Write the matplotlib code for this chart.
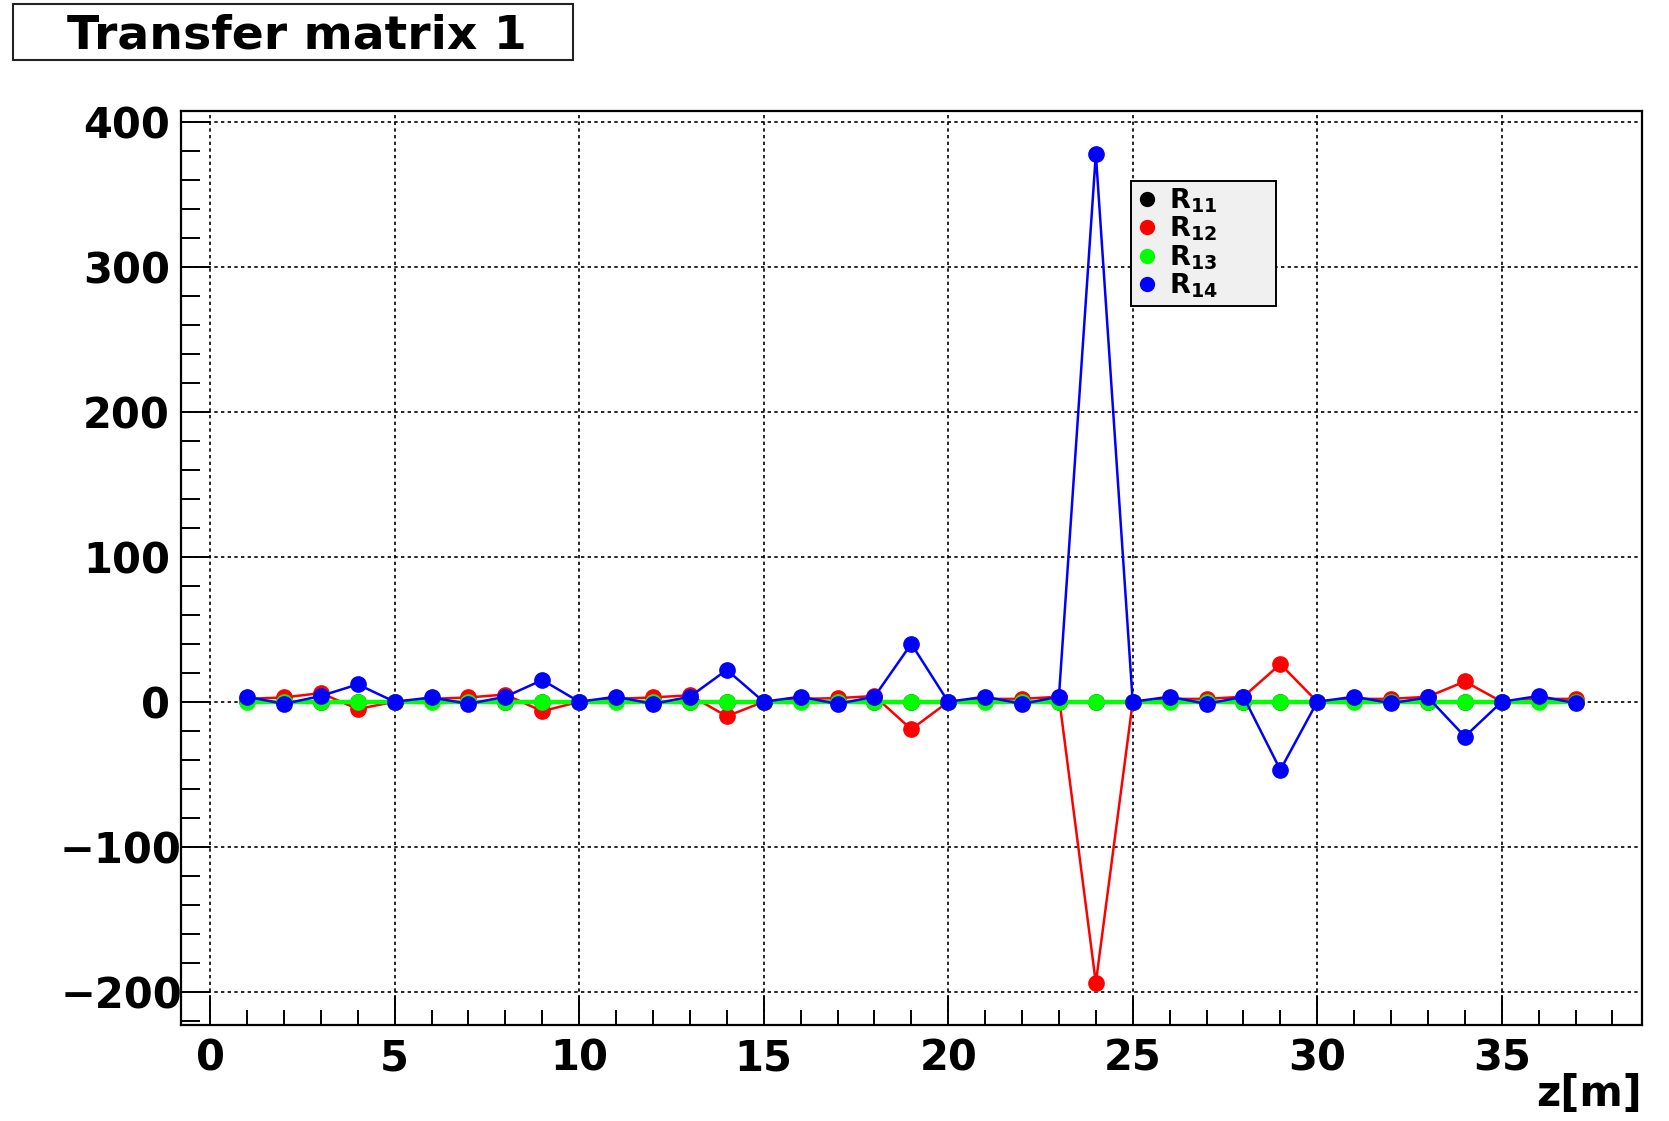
import matplotlib
matplotlib.use("Agg")
import matplotlib.pyplot as plt
import matplotlib.transforms as mtransforms
from matplotlib.lines import Line2D
from matplotlib.patches import Rectangle

plt.rcParams["font.family"] = ["DejaVu Sans"]
plt.rcParams["font.weight"] = "bold"
plt.rcParams["mathtext.fontset"] = "custom"
plt.rcParams["mathtext.rm"] = "DejaVu Sans:bold"
plt.rcParams["mathtext.bf"] = "DejaVu Sans:bold"
plt.rcParams["mathtext.default"] = "bf"

# z positions [m]
z = list(range(1, 38))

# transfer matrix elements
r11 = [0.3, 0.1, -0.2, -0.3, 0.0, 0.3, 0.1, -0.2, -0.3, 0.0,
       0.3, 0.1, -0.2, -0.3, 0.0, 0.3, 0.1, -0.2, -0.3, 0.0,
       0.3, 0.1, -0.2, -0.3, 0.0, 0.3, 0.1, -0.2, -0.3, 0.0,
       0.3, 0.1, -0.2, -0.3, 0.0, 0.3, 0.1]
r12 = [2, 3, 6, -5, 0, 2, 3, 5, -6.5, 0,
       2, 3, 4.5, -10, 0, 2, 2.5, 4, -19, 0,
       2, 2, 3.5, -194, 0, 2, 2, 3.5, 26, 0,
       2, 2, 3.5, 14, 0, 2, 2]
r13 = [0.0] * 37
r14 = [3.5, -1.5, 4, 12, 0, 3, -1.5, 3.5, 15, 0,
       3.5, -1.5, 3.5, 22, 0, 3.5, -1.5, 3.5, 40, 0,
       3.5, -1.5, 3.5, 378, 0, 3.5, -1.5, 3.5, -47, 0,
       3.5, -1, 3, -24, 0, 4, -1]

series = [
    (r11, "black", r"$\mathbf{R_{11}}$"),
    (r12, "#ff0000", r"$\mathbf{R_{12}}$"),
    (r13, "#00ff00", r"$\mathbf{R_{13}}$"),
    (r14, "#0000ff", r"$\mathbf{R_{14}}$"),
]

W, H = 1669, 1121
fig = plt.figure(figsize=(W / 100, H / 100), dpi=100)
ax = fig.add_axes([181 / W, 1 - 1025 / H, (1642 - 181) / W, (1025 - 111) / H])

handles = []
for vals, col, lab in series:
    lw = 3.2 if col == "#00ff00" else 1.8
    ax.plot(z, vals, color=col, lw=lw, marker="o", ms=11, mec=col, zorder=3)
    handles.append(Line2D([], [], ls="none", marker="o", ms=10, color=col, label=lab))

ax.set_xlim(-0.79, 38.8)
ax.set_ylim(-223, 407.6)
ax.set_xticks(range(0, 40, 5))
ax.set_xticks(range(0, 39), minor=True)
ax.set_yticks(range(-200, 401, 100))
ax.set_yticks(range(-220, 407, 20), minor=True)
ax.set_yticklabels(["\u2212200", "\u2212100", "0", "100", "200", "300", "400"])

ax.grid(True, which="major", color="black", ls=(0, (2, 2)), lw=1.2)
ax.tick_params(axis="both", which="both", direction="in", width=1.4,
               top=False, right=False, labelsize=30)
ax.tick_params(axis="y", which="major", length=21, pad=8)
ax.tick_params(axis="y", which="minor", length=14)
ax.tick_params(axis="x", which="major", length=21, pad=9)
ax.tick_params(axis="x", which="minor", length=11)
for sp in ax.spines.values():
    sp.set_linewidth(1.6)

# negative labels sit right against the axis in the original
shift = mtransforms.ScaledTranslation(0.12, 0, fig.dpi_scale_trans)
for lbl in ax.get_yticklabels():
    if lbl.get_text().startswith("\u2212"):
        lbl.set_transform(lbl.get_transform() + shift)

ax.set_xlabel("z[m]", fontsize=30, fontweight="bold", ha="right", va="center")
ax.xaxis.set_label_coords(1.0, -0.0755)

leg_x0, leg_y0 = 1131 / W, 1 - 308 / H
leg_w, leg_h = (1276 - 1131) / W, (308 - 181) / H
leg = ax.legend(handles=handles, loc="upper left",
                bbox_to_anchor=(leg_x0, leg_y0, leg_w, leg_h),
                bbox_transform=fig.transFigure, mode="expand",
                fontsize=19.5, frameon=True, fancybox=False, framealpha=1,
                facecolor="#f0f0f0", edgecolor="black", borderaxespad=0,
                handlelength=0.8, handletextpad=0.4, labelspacing=0.0,
                borderpad=0.2)
leg.get_frame().set_linewidth(1.4)
leg.set_zorder(5)

# title box
fig.patches.append(Rectangle((13 / W, 1 - 60 / H), (573 - 13) / W, (60 - 4) / H,
                             transform=fig.transFigure, fill=False,
                             edgecolor="#222222", lw=1.5))
fig.text(297 / W, 1 - 36 / H, "Transfer matrix 1", fontsize=34,
         fontweight="bold", ha="center", va="center")

fig.savefig("out.png", dpi=100)
